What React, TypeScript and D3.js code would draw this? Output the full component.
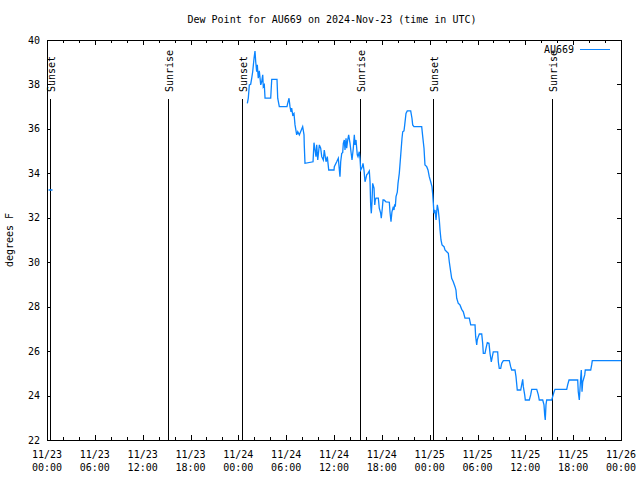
import React from "react";
import * as d3 from "d3";

const START = Date.UTC(2024, 10, 23, 0, 0);
const title = "Dew Point for AU669 on 2024-Nov-23 (time in UTC)";
const seriesName = "AU669";
const yLabel = "degrees F";
const yTicks = [22, 24, 26, 28, 30, 32, 34, 36, 38, 40];

// hours since 2024-11-23 00:00 UTC
const hours = [
  0.19, 0.69, 1.0,
  25.13, 25.25, 25.38, 25.55, 25.68, 25.8, 25.97, 26.09, 26.18, 26.3, 26.38, 26.5, 26.63, 26.81, 26.93, 27.06,
  27.13, 27.26, 27.35, 28.06, 28.19, 28.85, 28.94, 29.14, 30.1, 30.19, 30.36, 30.48, 30.61, 30.69, 30.82, 30.98,
  31.11, 31.32, 31.45, 31.65, 31.9, 32.07, 32.24, 32.27, 32.36, 33.37, 33.49, 33.62, 33.74, 33.83, 33.96, 34.16,
  34.33, 34.46, 34.66, 34.78, 35.0, 35.16, 35.34, 36.0, 36.04, 36.34, 36.54, 36.67, 36.75, 36.84, 36.97, 37.09,
  37.17, 37.29, 37.38, 37.51, 37.59, 37.72, 37.84, 38.01, 38.13, 38.26, 38.42, 38.55, 38.63, 38.76, 38.92, 39.01,
  39.17, 39.26, 39.35, 39.47, 39.55, 39.64, 39.76, 39.89, 40.01, 40.1, 40.26, 40.43, 40.52, 40.6, 40.68, 40.77,
  40.85, 41.02, 41.11, 41.18, 41.27, 41.56, 41.68, 41.86, 41.93, 42.06, 42.15, 42.27, 42.52, 42.94, 43.02, 43.15,
  43.27, 43.44, 43.53, 43.61, 43.69, 43.78, 43.94, 44.03, 44.19, 44.37, 44.53, 44.62, 44.78, 44.87, 45.03, 45.19,
  45.62, 45.78, 45.87, 46.03, 47.0, 47.13, 47.29, 47.41, 47.63, 47.79, 47.95, 48.13, 48.29, 48.38, 48.46, 48.54,
  48.67, 48.8, 48.88, 48.96, 49.08, 49.21, 49.3, 49.42, 49.55, 49.8, 49.92, 50.14, 50.34, 50.46, 50.64, 50.76,
  50.96, 51.18, 51.3, 51.39, 51.59, 51.8, 52.02, 52.22, 52.43, 52.97, 53.15, 53.69, 53.77, 53.9, 53.97, 54.1,
  54.23, 54.53, 54.65, 54.73, 54.94, 55.07, 55.23, 55.44, 55.57, 55.73, 55.86, 55.98, 56.53, 56.61, 56.73, 56.91,
  57.04, 57.24, 57.99, 58.16, 58.29, 58.7, 58.83, 58.99, 59.42, 59.54, 59.67, 59.75, 59.92, 60.0, 60.5, 60.67,
  60.8, 61.43, 61.63, 61.75, 62.18, 62.34, 62.43, 62.5, 62.59, 62.68, 63.31, 63.43, 63.6, 63.72, 65.19, 65.31,
  65.48, 66.57, 66.64, 66.77, 66.86, 66.94, 67.02, 67.11, 67.2, 67.27, 67.45, 67.52, 68.2, 68.32, 68.4, 72.0,
];

const dewF: (number | null)[] = [
  33.25, 33.25, null,
  37.15, 37.38, 37.98, 38.01, 38.28, 38.57, 39.18, 39.5, 39.02, 38.57, 38.88, 38.28, 38.61, 37.98, 38.12, 38.43,
  37.9, 37.98, 37.38, 37.38, 38.23, 38.23, 37.38, 37.0, 37.0, 37.15, 37.38, 37.0, 36.77, 36.93, 36.63, 36.7,
  36.18, 35.73, 35.87, 35.73, 35.95, 36.1, 35.73, 35.28, 34.45, 34.52, 35.38, 35.05, 34.75, 35.28, 34.6, 35.28,
  35.13, 34.75, 34.6, 35.05, 34.52, 34.75, 34.15, 34.15, 34.3, 34.52, 34.68, 34.15, 33.85, 34.52, 34.9, 34.93,
  35.35, 35.5, 35.05, 35.58, 35.13, 35.5, 35.73, 35.35, 34.97, 34.6, 35.13, 35.73, 35.28, 35.5, 34.83, 34.75,
  34.97, 34.68, 34.15, 34.23, 34.3, 34.45, 34.15, 33.62, 33.78, 33.93, 34.0, 34.11, 33.62, 32.58, 32.2, 32.72,
  33.55, 33.33, 32.58, 32.8, 32.88, 32.88, 32.43, 32.2, 31.98, 32.43, 32.8, 32.8, 32.72, 32.7, 32.27, 31.82,
  32.27, 32.5, 32.35, 32.61, 32.5, 32.95, 33.15, 33.55, 34.0, 34.83, 35.58, 35.87, 35.91, 36.18, 36.7, 36.81,
  36.81, 36.48, 36.18, 36.1, 36.1, 35.65, 35.13, 34.38, 34.3, 34.15, 33.85, 33.62, 33.4, 33.06, 32.65, 32.2,
  32.35, 31.9, 32.27, 32.58, 32.35, 31.9, 31.45, 31.0, 30.78, 30.7, 30.55, 30.47, 30.4, 30.02, 29.57, 29.28,
  29.12, 28.9, 28.75, 28.38, 28.15, 28.08, 27.88, 27.77, 27.48, 27.48, 27.18, 27.18, 26.65, 26.28, 26.5, 26.65,
  26.77, 26.77, 26.35, 25.9, 25.9, 26.13, 26.38, 26.35, 25.9, 25.52, 25.75, 25.97, 25.97, 25.52, 25.22, 25.22,
  25.45, 25.57, 25.57, 25.3, 25.15, 25.15, 24.85, 24.25, 24.25, 24.48, 24.73, 24.4, 24.03, 23.8, 23.8, 24.03,
  24.28, 24.28, 24.03, 23.8, 23.8, 23.58, 23.12, 22.9, 23.58, 23.8, 23.8, 23.95, 24.17, 24.28, 24.28, 24.48,
  24.7, 24.7, 24.17, 23.8, 24.33, 24.78, 25.15, 24.17, 24.62, 24.7, 24.93, 25.15, 25.15, 25.38, 25.57, 25.57,
];

const eventLabels = ["Sunset", "Sunrise", "Sunset", "Sunrise", "Sunset", "Sunrise"];
const eventHours = [0.41, 15.18, 24.42, 39.26, 48.46, 63.38];

const FONT = "'DejaVu Sans Mono', monospace";
const BLUE = "#0a84ff";

export default function App() {
  const W = 640, H = 480;
  const L = 47, R = 621, T = 40, B = 440;
  const toDate = (h: number) => new Date(START + h * 3600e3);
  const x = d3.scaleUtc().domain([toDate(0), toDate(72)]).range([L, R]);
  const y = d3.scaleLinear().domain([22, 40]).range([B, T]);
  const data = hours.map((h, i) => ({ t: toDate(h), v: dewF[i] }));
  const line = d3
    .line<{ t: Date; v: number | null }>()
    .defined((d) => d.v != null)
    .x((d) => x(d.t))
    .y((d) => y(d.v as number));

  const major = x.ticks(d3.utcHour.every(6) as any);
  const minor = x.ticks(d3.utcHour.every(2) as any).filter((d) => d.getUTCHours() % 6 !== 0);
  const fmtDate = d3.utcFormat("%m/%d");
  const fmtTime = d3.utcFormat("%H:%M");
  const px = (v: number) => Math.round(v) + 0.5;

  return (
    <svg width={W} height={H} style={{ position: "absolute", left: 0, top: 0, background: "#fff" }} fontFamily={FONT} fontSize={10}>
      <rect x={0} y={0} width={W} height={H} fill="#fff" />
      <text x={332} y={23} textAnchor="middle">{title}</text>
      <text transform={`translate(13,240) rotate(-90)`} textAnchor="middle">{yLabel}</text>
      <g shapeRendering="crispEdges" stroke="#000">
        {yTicks.map((v) => (
          <g key={v}>
            <line x1={L} x2={L + 4} y1={px(y(v))} y2={px(y(v))} />
            <line x1={R - 4} x2={R} y1={px(y(v))} y2={px(y(v))} />
          </g>
        ))}
        {major.map((d, i) => (
          <g key={"M" + i}>
            <line x1={px(x(d))} x2={px(x(d))} y1={B} y2={B - 5} />
            <line x1={px(x(d))} x2={px(x(d))} y1={T} y2={T + 5} />
          </g>
        ))}
        {minor.map((d, i) => (
          <g key={"m" + i}>
            <line x1={px(x(d))} x2={px(x(d))} y1={B} y2={B - 3} />
            <line x1={px(x(d))} x2={px(x(d))} y1={T} y2={T + 3} />
          </g>
        ))}
        {eventHours.map((h, i) => (
          <line key={"e" + i} x1={px(x(toDate(h)))} x2={px(x(toDate(h)))} y1={99} y2={B} />
        ))}
        <rect x={L + 0.5} y={T + 0.5} width={R - L} height={B - T} fill="none" />
      </g>
      {yTicks.map((v) => (
        <text key={"yl" + v} x={40} y={y(v) + 3.5} textAnchor="end">{v}</text>
      ))}
      {major.map((d, i) => (
        <g key={"xl" + i}>
          <text x={x(d)} y={458} textAnchor="middle">{fmtDate(d)}</text>
          <text x={x(d)} y={471} textAnchor="middle">{fmtTime(d)}</text>
        </g>
      ))}
      {eventHours.map((h, i) => (
        <text key={"et" + i} transform={`translate(${x(toDate(h)) + 5},92) rotate(-90)`} textAnchor="start">
          {eventLabels[i]}
        </text>
      ))}
      <path d={line(data) || ""} fill="none" stroke={BLUE} strokeWidth={1.3} strokeLinejoin="miter" />
      <text x={574} y={53} textAnchor="end">{seriesName}</text>
      <line x1={580} x2={610} y1={49.5} y2={49.5} stroke={BLUE} strokeWidth={1} shapeRendering="crispEdges" />
    </svg>
  );
}
